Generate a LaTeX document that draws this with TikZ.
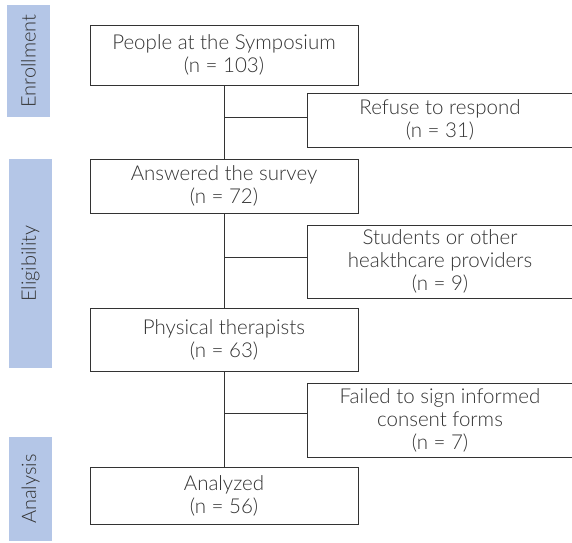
\documentclass[tikz,border=0pt]{standalone}
\usepackage{fontspec}
\setmainfont{Lato}[UprightFont={* Light}]
\usepackage{xcolor}
\definecolor{stage}{HTML}{B4C6E7}
\definecolor{ink}{HTML}{333333}

\begin{document}
\begin{tikzpicture}[x=1pt, y=-1pt,
    box/.style={draw=ink, line width=1pt, fill=white, align=center, inner sep=0pt,
      text=ink, font=\fontsize{20.5}{23}\selectfont},
    stagebar/.style={fill=stage, inner sep=0pt, rotate=90, text=ink,
      font=\fontsize{20}{22}\selectfont}]
  \useasboundingbox (0,0) rectangle (572,542);

  % Stages
  \node[stagebar, minimum width=112, minimum height=43] (enrol) at (28.5,61) {Enrollment};
  \node[stagebar, minimum width=209, minimum height=43] (elig) at (30.5,263.5) {Eligibility};
  \node[stagebar, minimum width=104, minimum height=43] (anal) at (30.5,489) {Analysis};

  % Main boxes
  \node[box, minimum width=268, minimum height=60] (b1) at (224,55) {People at the Symposium\\(n = 103)};
  \node[box, minimum width=268, minimum height=54] (b2) at (224,186) {Answered the survey\\(n = 72)};
  \node[box, minimum width=268, minimum height=63] (b3) at (224,339.5) {Physical therapists\\(n = 63)};
  \node[box, minimum width=268, minimum height=57] (b4) at (224,495.5) {Analyzed\\(n = 56)};

  % Excluded boxes
  \node[box, minimum width=265, minimum height=54] (s1) at (440,120) {Refuse to respond\\(n = 31)};
  \node[box, minimum width=265, minimum height=73] (s2) at (440,261.5) {Students or other\\heakthcare providers\\(n = 9)};
  \node[box, minimum width=265, minimum height=74] (s3) at (440,420) {Failed to sign informed\\consent forms\\(n = 7)};

  % Flow
  \draw[ink, line width=1pt] (b1) -- (b2);
  \draw[ink, line width=1pt] (b2) -- (b3);
  \draw[ink, line width=1pt] (b3) -- (b4);
  \coordinate (j1) at (b1.south |- 0,117);
  \coordinate (j2) at (b2.south |- 0,257);
  \coordinate (j3) at (b3.south |- 0,413);
  \draw[ink, line width=1pt] (j1) -- (j1 -| s1.west);
  \draw[ink, line width=1pt] (j2) -- (j2 -| s2.west);
  \draw[ink, line width=1pt] (j3) -- (j3 -| s3.west);
\end{tikzpicture}
\end{document}
